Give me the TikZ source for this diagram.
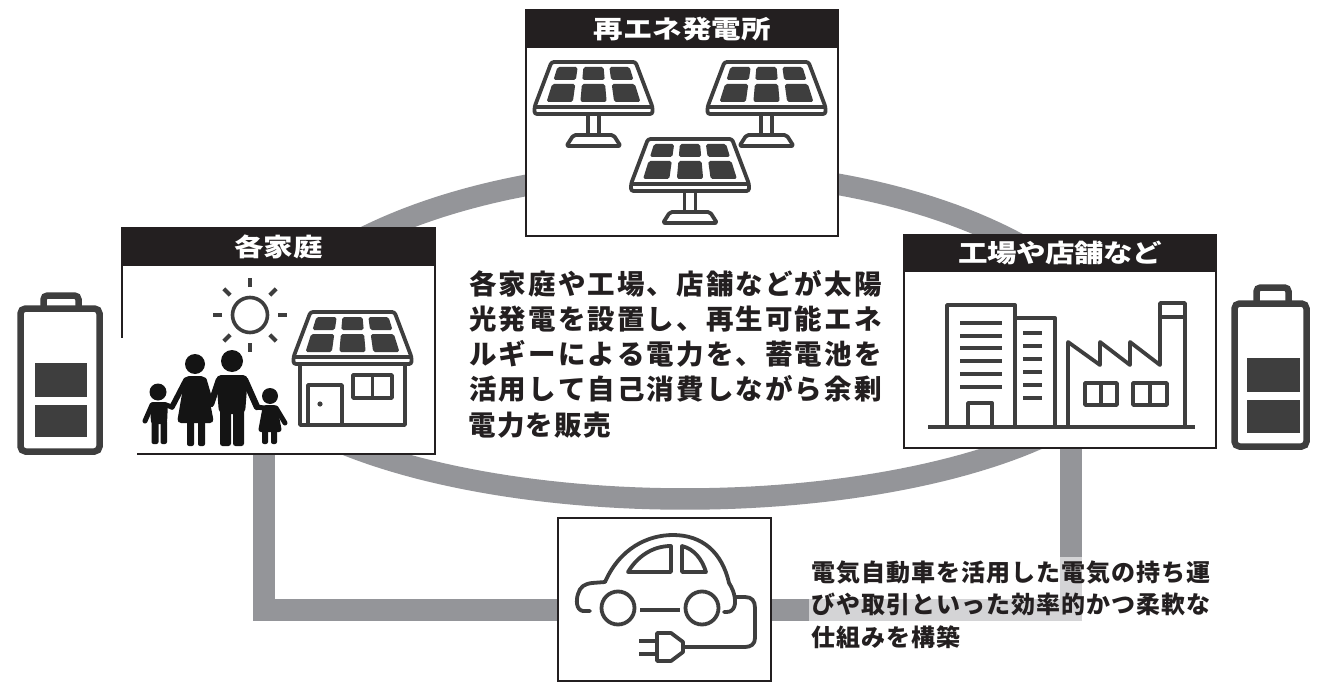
\documentclass[tikz,border=0pt]{standalone}
\usepackage{fontspec}
\newfontfamily\jp{Noto Sans CJK JP}
\newfontfamily\jphead{Noto Sans CJK JP}[FakeStretch=1.18]
\definecolor{bandgray}{RGB}{148,149,153}
\definecolor{ink}{RGB}{35,31,32}
\definecolor{icongray}{RGB}{62,62,62}
\definecolor{figblack}{RGB}{20,20,20}

% set a string of CJK characters on a fixed pitch
\newdimen\charpitch
\def\spreadloop#1{\ifx#1\relax\else\hbox to\charpitch{\hss#1\hss}\expandafter\spreadloop\fi}
\newcommand\spreadtext[2]{\charpitch=#1\relax\spreadloop#2\relax}

% one dark cell of a solar panel, between fractions #1..#2 of the width and rows #3..#4
\newcommand\pcell[4]{\fill[icongray,rounded corners=1.8pt]
  ({(2*#1-1)*(36+11*(#3+40)/35)},#3) -- ({(2*#2-1)*(36+11*(#3+40)/35)},#3) --
  ({(2*#2-1)*(36+11*(#4+40)/35)},#4) -- ({(2*#1-1)*(36+11*(#4+40)/35)},#4) -- cycle;}

% tilted solar panel glass, origin at the centre of its lower edge
\newcommand\panelglass[2]{%
  \begin{scope}[shift={(#1,#2)}]
    \draw[icon,rounded corners=2.5pt] (-42,-45) -- (42,-45) -- (59,0) -- (59,7) -- (-59,7) -- (-59,0) -- cycle;
    \draw[icon] (-59,0) -- (59,0);
    \pcell{0}{.28}{-40}{-27}\pcell{.36}{.64}{-40}{-27}\pcell{.72}{1}{-40}{-27}
    \pcell{0}{.28}{-23}{-5}\pcell{.36}{.64}{-23}{-5}\pcell{.72}{1}{-23}{-5}
  \end{scope}}
% panel on its stand
\newcommand\solarpanel[2]{%
  \begin{scope}[shift={(#1,#2)}]
    \draw[icon] (-5.5,7) rectangle (5.5,28);
    \draw[icon,rounded corners=2pt] (-20,28) -- (20,28) -- (27,39) -- (-27,39) -- cycle;
  \end{scope}
  \panelglass{#1}{#2}}

\tikzset{
  ring/.style={draw=bandgray,line width=21.5pt},
  band/.style={draw=bandgray,line width=21.5pt},
  card/.style={draw=ink,line width=1.6pt,fill=white,inner sep=0pt},
  headbar/.style={fill=ink,text=white,inner sep=0pt,font=\jphead\bfseries\fontsize{25}{25}\selectfont},
  icon/.style={draw=icongray,line width=3.8pt,line join=round},
  fig/.style={fill=figblack},
  limb/.style={draw=figblack,line width=6.5pt,line cap=round},
  cell/.style={fill=icongray},
  battery/.style={draw=icongray,line width=6.5pt,rounded corners=5pt},
}

\begin{document}
\begin{tikzpicture}[x=1pt,y=-1pt]
\useasboundingbox[fill=white] (0,0) rectangle (1319,687);

% ---- energy ring (top and bottom arcs, joined under the side cards)
\draw[ring] plot[domain=8:172,samples=90] ({685+455*cos(\x)},{399-228*sin(\x)});
\draw[ring] plot[domain=188:352,samples=90] ({685+455*cos(\x)},{336-163*sin(\x)});

% ---- cards
\node[card,minimum width=312pt,minimum height=226pt] (plant) at (682,123) {};
\node[card,minimum width=313pt,minimum height=226pt] (home) at (278.5,341) {};
\node[card,minimum width=312pt,minimum height=213pt] (works) at (1060,341.5) {};
\node[card,minimum width=213pt,minimum height=163pt] (ev) at (664.5,599.5) {};

% ---- links from the homes and the works to the car
\coordinate (lv) at (264,0);
\coordinate (rv) at (1071,0);
\coordinate (evin) at (ev.west |- 0,610);
\coordinate (evout) at (ev.east |- 0,610);
\draw[band] (lv |- home.south) |- (evin);
\draw[band] (rv |- works.south) |- (evout);
% redraw the cards over the link ends
\node[card,minimum width=313pt,minimum height=226pt] at (home) {};
\node[card,minimum width=312pt,minimum height=213pt] at (works) {};
\node[card,minimum width=213pt,minimum height=163pt] at (ev) {};

% ---- card headers
\node[headbar,minimum width=312pt,minimum height=39pt,anchor=north] (plantT) at (plant.north) {\spreadtext{29.5pt}{再エネ発電所}};
\node[headbar,minimum width=313pt,minimum height=39pt,anchor=north] (homeT) at (home.north) {\spreadtext{29.5pt}{各家庭}};
\node[headbar,minimum width=312pt,minimum height=38pt,anchor=north] (worksT) at (works.north) {\spreadtext{29pt}{工場や店舗など}};

% ---- solar farm
\solarpanel{593.5}{107}
\solarpanel{766.5}{107}
\solarpanel{690}{184}

% ---- household: sun, house with roof panels, family
\fill[white] (119,338) rectangle (137,457);
\draw[icon,line width=3.6pt] (250,315) circle (17.5);
\foreach \a in {0,45,...,315}
  \draw[icongray,line width=4pt] ({250+28*cos(\a)},{315+28*sin(\a)}) -- ({250+37*cos(\a)},{315+37*sin(\a)});
\panelglass{352.5}{357}
\draw[icon] (300,364) -- (300,425) -- (405,425) -- (405,364);
\draw[icon] (308,425) -- (308,385) -- (342,385) -- (342,425);
\fill[icongray] (320,404) circle (2.6);
\draw[icon,line width=3.5pt] (353,375) rectangle (392,398);
\draw[icon,line width=3.5pt] (372.5,375) -- (372.5,398);
% man
\fill[fig] (232,361) circle (11);
\fill[fig,rounded corners=5pt] (216,375) -- (248,375) -- (245,414) -- (219,414) -- cycle;
\fill[fig,rounded corners=2.5pt] (220,408) rectangle (231,446);
\fill[fig,rounded corners=2.5pt] (233,408) rectangle (244,446);
\draw[limb] (219,380) -- (211,404);
\draw[limb] (245,380) -- (257,407);
% woman
\fill[fig] (195,364) circle (10);
\fill[fig,rounded corners=4pt] (185,376) -- (205,376) -- (214,423) -- (177,423) -- cycle;
\fill[fig,rounded corners=2pt] (187,418) rectangle (194,446);
\fill[fig,rounded corners=2pt] (198,418) rectangle (205,446);
\draw[limb,line width=5.5pt] (186,380) -- (172,407);
\draw[limb,line width=5.5pt] (204,380) -- (211,404);
% child on the left
\fill[fig] (158,392) circle (8.5);
\fill[fig,rounded corners=3pt] (150,402) -- (168,402) -- (167,424) -- (151,424) -- cycle;
\fill[fig,rounded corners=2pt] (151.5,420) rectangle (158.5,444);
\fill[fig,rounded corners=2pt] (160.5,420) rectangle (167,444);
\draw[limb,line width=5pt] (152,405) -- (145,421);
\draw[limb,line width=5pt] (166,405) -- (172,407);
% child on the right
\fill[fig] (270,396) circle (8);
\fill[fig,rounded corners=3pt] (263,405) -- (277,405) -- (282,432) -- (258,432) -- cycle;
\fill[fig,rounded corners=2pt] (262,428) rectangle (268,444);
\fill[fig,rounded corners=2pt] (271,428) rectangle (277,444);
\draw[limb,line width=5pt] (264,408) -- (257,407);
\draw[limb,line width=5pt] (276,408) -- (285,423);

% ---- office block and factory
\draw[icon] (928,427) -- (1195,427);
\draw[icon] (947,427) -- (947,305) -- (1015,305) -- (1015,427);
\foreach \y in {323,336,348,361,374,387} \draw[icon,line width=3.5pt] (960,\y) -- (1002,\y);
\draw[icon] (968,427) -- (968,403) -- (992,403) -- (992,427);
\draw[icon] (1015,318) -- (1055,318) -- (1055,427);
\foreach \y in {333,346,359,372,385,398} \draw[icon,line width=3.5pt] (1023,\y) -- (1042,\y);
\draw[icon] (1068,427) -- (1068,342) -- (1100,365) -- (1100,342) -- (1130,365) -- (1130,342) -- (1160,365) -- (1160,303) -- (1185,303) -- (1185,427);
\draw[icon] (1160,317) -- (1185,317);
\draw[icon,line width=3.5pt] (1085,383) rectangle (1117,405);
\draw[icon,line width=3.5pt] (1101,383) -- (1101,405);
\draw[icon,line width=3.5pt] (1133,383) rectangle (1167,405);
\draw[icon,line width=3.5pt] (1150,383) -- (1150,405);

% ---- batteries
\draw[battery] (20.5,308.5) rectangle (99.5,451.5);
\draw[battery,rounded corners=4pt] (43.5,308.5) -- (43.5,295.5) -- (78.5,295.5) -- (78.5,308.5);
\fill[cell] (35,363) rectangle (87,397);
\fill[cell] (35,405) rectangle (87,437);
\draw[battery] (1234.5,303.5) rectangle (1306.5,446.5);
\draw[battery,rounded corners=4pt] (1256.5,303.5) -- (1256.5,287.5) -- (1288.5,287.5) -- (1288.5,303.5);
\fill[cell] (1247,358) rectangle (1300,392);
\fill[cell] (1247,400) rectangle (1300,433);

% ---- electric car with charging plug
\draw[icon,line cap=round] (590,611) -- (583,611) .. controls (576,610) and (576,600) .. (578,594)
  .. controls (580,587) and (584,584) .. (592,583) -- (605,582)
  .. controls (620,548) and (648,535) .. (673,535)
  .. controls (702,535) and (722,552) .. (729,583)
  .. controls (735,592) and (737,604) .. (733,609) .. controls (731,612) and (728,612) .. (724,612);
\draw[icon] (628,572) -- (671,572) -- (671,546) .. controls (652,546) and (637,557) .. cycle;
\draw[icon] (682,572) -- (706,572) .. controls (702,559) and (694,549) .. (682,546) -- cycle;
\draw[icon] (618,608) circle (16.5);
\draw[icon] (702,608) circle (16.5);
\draw[icon] (640,610) -- (680,610);
\draw[icon] (734,597) -- (745,597) .. controls (752,597) and (755,601) .. (755,608) -- (755,638)
  .. controls (755,644) and (751,647) .. (745,647) -- (683,647);
\draw[icon] (657,633) -- (671,633) -- (683,642) -- (683,652) -- (671,661) -- (657,661) -- cycle;
\draw[icon] (639,641) -- (657,641);
\draw[icon] (639,654) -- (657,654);

% ---- texts
\node[anchor=base west,inner sep=0pt,text=ink,font=\jp\bfseries\fontsize{27.5}{35.3}\selectfont] (summary) at (468,294)
  {\vtop{\baselineskip=35.3pt
    \hbox{\spreadtext{29.6pt}{各家庭や工場、店舗などが太陽}}
    \hbox{\spreadtext{29.6pt}{光発電を設置し、再生可能エネ}}
    \hbox{\spreadtext{29.6pt}{ルギーによる電力を、蓄電池を}}
    \hbox{\spreadtext{29.6pt}{活用して自己消費しながら余剰}}
    \hbox{\spreadtext{28.6pt}{電力を販売}}}};

\fill[white,fill opacity=0.6] (809,557) rectangle (1222,662);
\node[anchor=base west,inner sep=0pt,text=ink,font=\jp\bfseries\fontsize{24}{32.5}\selectfont] (evnote) at (811,581)
  {\vtop{\baselineskip=32.5pt
    \hbox{\spreadtext{25pt}{電気自動車を活用した電気の持ち運}}
    \hbox{\spreadtext{25pt}{びや取引といった効率的かつ柔軟な}}
    \hbox{\spreadtext{25pt}{仕組みを構築}}}};
\end{tikzpicture}
\end{document}
